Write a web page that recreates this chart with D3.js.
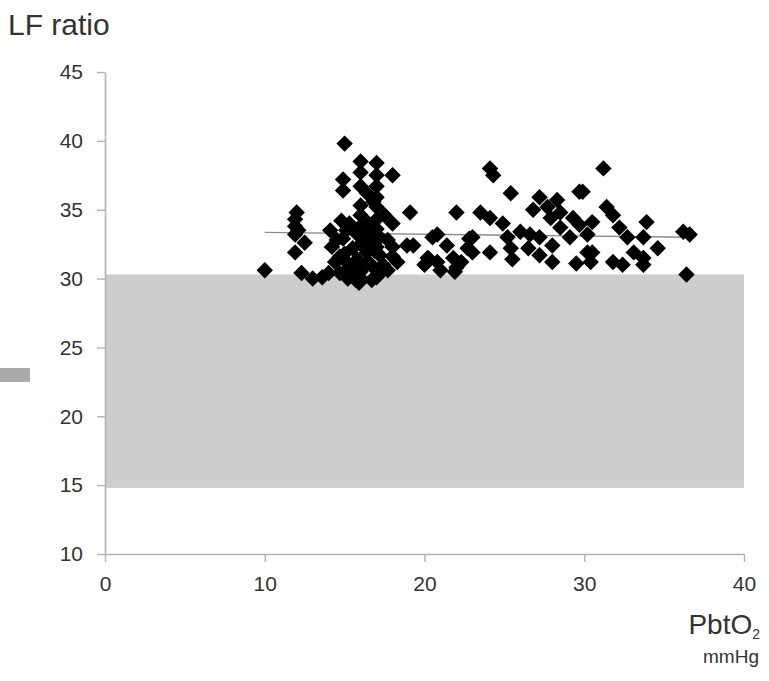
<!DOCTYPE html>
<html>
<head>
<meta charset="utf-8">
<script src="https://cdn.jsdelivr.net/npm/d3@7/dist/d3.min.js"></script>
<style>
  html, body { margin: 0; padding: 0; background: #fff; }
  svg { display: block; }
  text { font-family: "Liberation Sans", Arial, sans-serif; }
</style>
</head>
<body>
<svg id="chart" width="769" height="681"></svg>
<script>
// ---- data ----
const xTicks = [0, 10, 20, 30, 40];
const yTicks = [10, 15, 20, 25, 30, 35, 40, 45];
const bandLow = 14.8, bandHigh = 30.3;
const trendX = [10, 36.5];
const trendY = [33.35, 33.0];
const pbtO2 = [
  10.0, 12.0, 11.9, 11.9, 11.9, 12.5, 11.9, 12.1, 12.3, 13.0, 13.6, 14.0,
  14.1, 14.2, 14.7, 15.1, 15.3, 15.7, 14.7, 15.0, 14.9, 14.9, 14.9, 15.2,
  16.0, 16.0, 16.0, 16.0, 16.0, 16.2, 16.4, 15.8, 16.0, 16.0, 16.0, 16.0, 15.5, 15.5,
  17.0, 17.0, 17.0, 17.0, 17.0, 16.8, 17.0, 17.2, 17.2, 17.0, 17.0, 17.0, 16.5, 16.5,
  18.0, 18.0, 18.0, 18.3, 17.7, 18.0, 17.7,
  19.1, 18.9, 19.3,
  20.3, 20.5, 20.2, 20.8, 20.8, 21.0, 21.4, 21.8, 22.0, 21.9, 22.0, 22.7, 22.8, 23.0, 22.3, 20.0,
  23.5, 24.1, 24.3, 24.1, 24.9, 25.4, 23.0, 24.1, 25.2, 25.4, 25.5,
  26.0, 26.6, 26.5, 26.8, 27.2, 27.7, 27.2, 27.2, 27.9, 28.0, 28.0, 28.3, 28.5, 28.5, 29.1,
  29.3, 29.7, 29.7, 29.5, 30.2, 29.9, 30.2, 30.5, 30.5, 30.4,
  31.2, 31.4, 31.8, 32.2, 32.7, 31.8, 32.4, 33.1, 33.7, 33.7, 33.7, 33.9, 34.6,
  36.2, 36.6, 36.4,
  15.5, 15.6, 16.2, 16.6, 16.8, 16.4, 15.3, 14.5, 14.4, 16.7, 17.3, 16.2, 15.9,
  15.0, 15.8, 16.6, 17.4, 15.2, 16.9, 17.5, 14.8
];
const lfRatio = [
  30.6, 34.8, 34.3, 33.8, 33.2, 32.6, 31.9, 33.5, 30.4, 30.0, 30.1, 30.4,
  33.5, 32.3, 31.6, 33.5, 30.8, 29.9, 30.4, 39.8, 37.2, 36.4, 32.9, 31.1,
  38.5, 37.7, 36.7, 34.6, 33.8, 33.0, 31.9, 31.4, 30.5, 32.5, 35.3, 30.0, 32.2, 30.2,
  38.4, 36.7, 35.9, 35.2, 34.3, 30.8, 30.1, 33.0, 31.7, 32.3, 37.5, 33.6, 34.0, 31.2,
  37.5, 34.0, 32.3, 31.2, 30.6, 31.6, 32.8,
  34.8, 32.4, 32.4,
  31.4, 33.0, 31.5, 33.2, 31.2, 30.6, 32.4, 31.5, 30.8, 30.5, 34.8, 32.2, 32.9, 31.9, 31.2, 31.0,
  34.8, 38.0, 37.5, 34.4, 34.0, 36.2, 33.0, 31.9, 33.0, 32.2, 31.4,
  33.4, 33.2, 32.2, 35.0, 35.9, 35.2, 33.0, 31.7, 34.4, 32.4, 31.2, 35.7, 34.8, 33.7, 33.0,
  34.4, 33.9, 36.3, 31.1, 31.9, 36.3, 33.2, 34.1, 31.9, 31.2,
  38.0, 35.2, 34.6, 33.7, 33.0, 31.2, 31.0, 31.9, 33.0, 31.5, 31.0, 34.1, 32.2,
  33.4, 33.2, 30.3,
  33.6, 31.0, 34.0, 32.6, 35.6, 36.2, 34.0, 32.8, 31.2, 29.9, 30.5, 30.9, 29.7,
  31.8, 33.2, 33.4, 31.0, 30.0, 32.0, 34.6, 34.2
];
const points = pbtO2.map((v, i) => ({ x: v, y: lfRatio[i] }));

// ---- layout ----
const svg = d3.select("#chart");
const mLeft = 105, mRight = 744, mTop = 72, mBottom = 554;
const xs = d3.scaleLinear().domain([0, 40]).range([mLeft, mRight]);
const ys = d3.scaleLinear().domain([10, 45]).range([mBottom, mTop]);

// grey reference band
svg.append("rect")
  .attr("x", xs(0) + 1)
  .attr("y", ys(bandHigh))
  .attr("width", xs(40) - xs(0) - 1)
  .attr("height", ys(bandLow) - ys(bandHigh))
  .attr("fill", "#cdcdcd");

// small grey marker at left edge
svg.append("rect")
  .attr("x", 0).attr("y", 368).attr("width", 30).attr("height", 14)
  .attr("fill", "#a9a9a9");

// axes
const axisColor = "#b3b3b3";
const gx = svg.append("g")
  .attr("transform", `translate(0,${mBottom})`)
  .call(d3.axisBottom(xs).tickValues(xTicks).tickSize(8).tickSizeOuter(0).tickPadding(14));
const gy = svg.append("g")
  .attr("transform", `translate(${mLeft},0)`)
  .call(d3.axisLeft(ys).tickValues(yTicks).tickSize(8).tickSizeOuter(0).tickPadding(14));
[gx, gy].forEach(g => {
  g.select(".domain").attr("stroke", axisColor).attr("stroke-width", 1.6);
  g.selectAll(".tick line").attr("stroke", axisColor).attr("stroke-width", 1.4);
  g.selectAll(".tick text")
    .attr("fill", "#333")
    .style("font-size", "21px")
    .style("font-family", "'Liberation Sans', Arial, sans-serif");
});

// trend line
svg.append("line")
  .attr("x1", xs(trendX[0])).attr("y1", ys(trendY[0]))
  .attr("x2", xs(trendX[1])).attr("y2", ys(trendY[1]))
  .attr("stroke", "#8a8a8a").attr("stroke-width", 1.3);

// points (diamonds)
const diamond = d3.symbol().type(d3.symbolSquare).size(135);
svg.append("g").selectAll("path")
  .data(points)
  .join("path")
  .attr("d", diamond)
  .attr("transform", d => `translate(${xs(d.x)},${ys(d.y)}) rotate(45)`)
  .attr("fill", "#000");

// titles
svg.append("text")
  .attr("x", 8).attr("y", 35)
  .attr("fill", "#333")
  .style("font-size", "30px")
  .text("LF ratio");

const xl = svg.append("text")
  .attr("x", 760).attr("y", 634)
  .attr("text-anchor", "end")
  .attr("fill", "#333")
  .style("font-size", "28px");
xl.append("tspan").text("PbtO");
xl.append("tspan").attr("dy", 5).style("font-size", "14px").text("2");

svg.append("text")
  .attr("x", 759).attr("y", 663)
  .attr("text-anchor", "end")
  .attr("fill", "#333")
  .style("font-size", "19px")
  .text("mmHg");
</script>
</body>
</html>
